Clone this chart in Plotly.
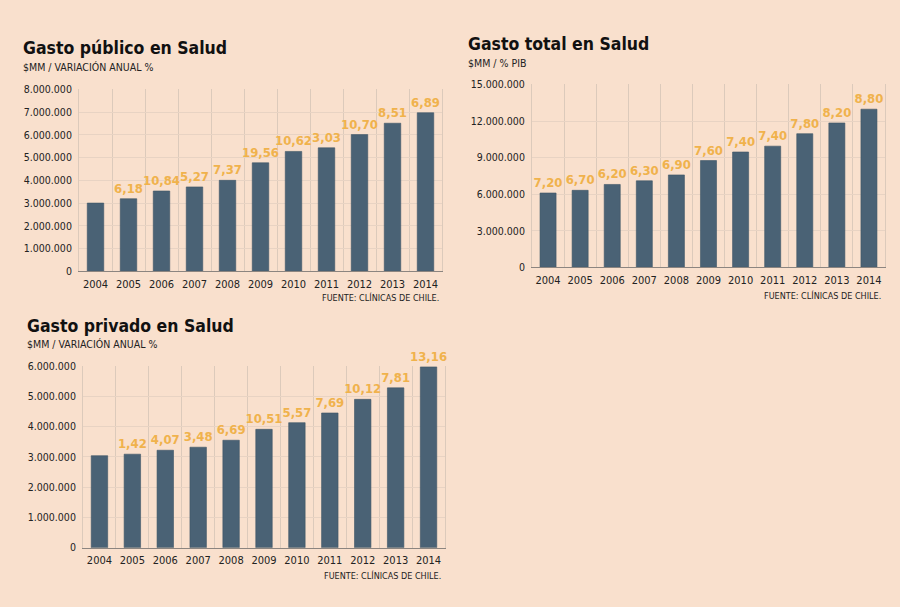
import plotly.graph_objects as go

years = [str(y) for y in range(2004, 2015)]

publico_vals = [3000000, 3190000, 3530000, 3710000, 4000000, 4770000,
                5270000, 5430000, 6010000, 6510000, 6970000]
publico_labels = ["", "6,18", "10,84", "5,27", "7,37", "19,56",
                  "10,62", "3,03", "10,70", "8,51", "6,89"]

total_vals = [6100000, 6320000, 6800000, 7100000, 7580000, 8760000,
              9460000, 9940000, 10960000, 11840000, 12970000]
total_labels = ["7,20", "6,70", "6,20", "6,30", "6,90", "7,60",
                "7,40", "7,40", "7,80", "8,20", "8,80"]

privado_vals = [3040000, 3090000, 3220000, 3320000, 3550000, 3910000,
                4130000, 4450000, 4900000, 5280000, 5970000]
privado_labels = ["", "1,42", "4,07", "3,48", "6,69", "10,51",
                  "5,57", "7,69", "10,12", "7,81", "13,16"]

W, H = 900, 607
BG = "#F9E0CD"
BAR = "#4A6275"
ORANGE = "#F0B24C"
GRID = "#DCCABB"
FONT = "DejaVu Sans Condensed, DejaVu Sans, sans-serif"

def px_x(x):
    return x / W

def px_y(y):
    return 1 - y / H

fig = go.Figure()

panels = [
    dict(vals=publico_vals, labels=publico_labels, x0=79, x1=442, ytop=85, ybot=270.7,
         ymax=8000000, dtick=1000000,
         title="Gasto público en Salud", tx=21, ty=43,
         sub="$MM / VARIACIÓN ANUAL %", sy=62.5, srcx=441, srcy=297),
    dict(vals=total_vals, labels=total_labels, x0=532, x1=885, ytop=80, ybot=266.7,
         ymax=15000000, dtick=3000000,
         title="Gasto total en Salud", tx=466, ty=39,
         sub="$MM / % PIB", sy=58, srcx=883, srcy=295),
    dict(vals=privado_vals, labels=privado_labels, x0=83, x1=445, ytop=367.3, ybot=552.7,
         ymax=6000000, dtick=1000000,
         title="Gasto privado en Salud", tx=25, ty=326,
         sub="$MM / VARIACIÓN ANUAL %", sy=345, srcx=443, srcy=581),
]

annotations = []
for i, p in enumerate(panels, start=1):
    xa = "x" if i == 1 else f"x{i}"
    ya = "y" if i == 1 else f"y{i}"
    fig.add_trace(go.Bar(
        x=years, y=p["vals"], text=p["labels"], textposition="outside",
        textfont=dict(family=FONT, size=13, color=ORANGE, weight="bold"),
        marker=dict(color=BAR, line=dict(color="#3E5567", width=0.6)),
        width=0.5, cliponaxis=False, constraintext="none",
        xaxis=xa, yaxis=ya, showlegend=False, hoverinfo="skip",
    ))
    xkey = "xaxis" if i == 1 else f"xaxis{i}"
    ykey = "yaxis" if i == 1 else f"yaxis{i}"
    fig.update_layout(**{
        xkey: dict(domain=[px_x(p["x0"]), px_x(p["x1"])], anchor=ya,
                   type="category", tickson="boundaries", showgrid=True,
                   gridcolor=GRID, gridwidth=1, showline=True, linecolor="#8C8580",
                   linewidth=1, ticks="", tickangle=0, ticklabelstandoff=2,
                   tickfont=dict(family=FONT, size=11, color="#222"),
                   fixedrange=True),
        ykey: dict(domain=[px_y(p["ybot"]), px_y(p["ytop"])], anchor=xa,
                   range=[0, p["ymax"]], dtick=p["dtick"], tickformat=",d",
                   showgrid=True, gridcolor="#E8D3C3", gridwidth=1,
                   showline=True, mirror=True, linecolor=GRID, linewidth=1,
                   zeroline=False, ticks="", ticklabelstandoff=4,
                   tickfont=dict(family=FONT, size=10.5, color="#222"),
                   fixedrange=True),
    })
    annotations.append(dict(text=p["title"], x=px_x(p["tx"]), y=px_y(p["ty"]),
                            xref="paper", yref="paper", xanchor="left", yanchor="middle",
                            showarrow=False,
                            font=dict(family=FONT, size=17.5, color="#111", weight="bold")))
    annotations.append(dict(text=p["sub"], x=px_x(p["tx"]), y=px_y(p["sy"]),
                            xref="paper", yref="paper", xanchor="left", yanchor="middle",
                            showarrow=False,
                            font=dict(family=FONT, size=10.5, color="#222")))
    annotations.append(dict(text="FUENTE: CLÍNICAS DE CHILE.", x=px_x(p["srcx"]), y=px_y(p["srcy"]),
                            xref="paper", yref="paper", xanchor="right", yanchor="middle",
                            showarrow=False,
                            font=dict(family=FONT, size=9, color="#222")))

fig.update_layout(
    width=W, height=H, margin=dict(l=0, r=0, t=0, b=0),
    paper_bgcolor=BG, plot_bgcolor=BG,
    separators=",.", bargap=0.5,
    annotations=annotations,
)

fig.write_html("out.html")
